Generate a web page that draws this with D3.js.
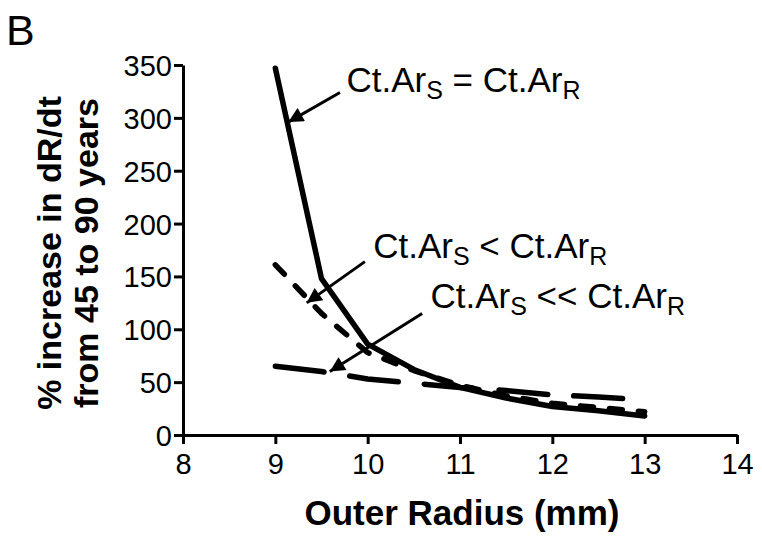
<!DOCTYPE html>
<html>
<head>
<meta charset="utf-8">
<script src="https://cdn.jsdelivr.net/npm/d3@7"></script>
<style>
  html, body { margin: 0; padding: 0; background: #fff; }
  svg { display: block; font-family: "Liberation Sans", Arial, sans-serif; }
</style>
</head>
<body>
<div id="chart"></div>
<script>
// outer radius (mm)
const radius = [9, 9.5, 10, 10.5, 11, 11.5, 12, 12.5, 13];
// % increase in dR/dt from 45 to 90 years
const equalArea = [347, 148, 86, 62, 45, 35, 27, 23, 18];
const lessArea = [161, 115, 78, 61, 47, 37, 30, 26, 22];
const muchLessArea = [65, 60, 53, 49, 45, 42, 38, 36, 33];

const xTicks = [8, 9, 10, 11, 12, 13, 14];
const yTicks = [0, 50, 100, 150, 200, 250, 300, 350];

const series = [
  { name: 'equal', values: equalArea, dash: null },
  { name: 'less', values: lessArea, dash: '13,16' },
  { name: 'muchLess', values: muchLessArea, dash: '49,26' },
];

// relation sign, label position and arrow (data coordinates)
const notes = [
  { rel: ' = ', at: [9.77, 324], tail: [9.70, 324], tip: [9.14, 296] },
  { rel: ' < ', at: [10.06, 167], tail: [9.97, 164], tip: [9.34, 125] },
  { rel: ' << ', at: [10.68, 120], tail: [10.59, 115], tip: [9.59, 60] },
];

const W = 762, H = 537;
const svg = d3.select('#chart').append('svg')
  .attr('width', W).attr('height', H);

const x = d3.scaleLinear().domain([8, 14]).range([183, 737]);
const y = d3.scaleLinear().domain([0, 350]).range([435, 65]);

svg.append('defs').append('marker')
  .attr('id', 'head')
  .attr('viewBox', '0 0 10 10')
  .attr('refX', 10).attr('refY', 5)
  .attr('markerWidth', 5.5).attr('markerHeight', 5)
  .attr('markerUnits', 'strokeWidth')
  .attr('orient', 'auto')
  .append('path').attr('d', 'M0,0L10,5L0,10Z').attr('fill', '#000');

// axes
const yAxis = svg.append('g')
  .attr('transform', `translate(${x(8)},0)`)
  .call(d3.axisLeft(y).tickValues(yTicks).tickSize(9).tickPadding(2).tickSizeOuter(0));
const xAxis = svg.append('g')
  .attr('transform', `translate(0,${y(0)})`)
  .call(d3.axisBottom(x).tickValues(xTicks).tickFormat(d3.format('d'))
    .tickSize(9).tickPadding(4).tickSizeOuter(0));

[yAxis, xAxis].forEach(ax => {
  ax.select('.domain').attr('stroke', '#000').attr('stroke-width', 3);
  ax.selectAll('.tick line').attr('stroke', '#000').attr('stroke-width', 3);
  ax.selectAll('.tick text').attr('fill', '#000')
    .style('font-size', '29px').style('font-family', '"Liberation Sans", Arial, sans-serif');
});
xAxis.selectAll('.tick text').attr('dy', '0.9em');
yAxis.selectAll('.tick text').attr('dy', '0.36em');

// lines
const line = d3.line()
  .x((d, i) => x(radius[i]))
  .y(d => y(d));

svg.selectAll('path.series')
  .data(series)
  .enter()
  .append('path')
  .attr('class', 'series')
  .attr('fill', 'none')
  .attr('stroke', '#000')
  .attr('stroke-width', 5.5)
  .attr('stroke-linejoin', 'round')
  .attr('stroke-linecap', 'round')
  .attr('stroke-dasharray', d => d.dash)
  .attr('d', d => line(d.values));

// annotations
svg.selectAll('line.arrow')
  .data(notes)
  .enter()
  .append('line')
  .attr('class', 'arrow')
  .attr('x1', d => x(d.tail[0])).attr('y1', d => y(d.tail[1]))
  .attr('x2', d => x(d.tip[0])).attr('y2', d => y(d.tip[1]))
  .attr('stroke', '#000')
  .attr('stroke-width', 3)
  .attr('marker-end', 'url(#head)');

notes.forEach(n => {
  const t = svg.append('text')
    .attr('x', x(n.at[0])).attr('y', y(n.at[1]))
    .style('font-size', '35px');
  t.append('tspan').text('Ct.Ar');
  t.append('tspan').attr('dy', 7).style('font-size', '25px').text('S');
  t.append('tspan').attr('dy', -7).text(n.rel + 'Ct.Ar');
  t.append('tspan').attr('dy', 7).style('font-size', '25px').text('R');
});

// titles
svg.append('text')
  .attr('x', 6).attr('y', 45)
  .style('font-size', '43px')
  .text('B');

svg.append('text')
  .attr('x', 462).attr('y', 525)
  .attr('text-anchor', 'middle')
  .style('font-size', '35px').style('font-weight', 'bold')
  .text('Outer Radius (mm)');

const yt = svg.append('text')
  .attr('transform', 'translate(61,253) rotate(-90)')
  .attr('text-anchor', 'middle')
  .style('font-size', '34px').style('font-weight', 'bold');
yt.append('tspan').attr('x', 0).attr('y', 0).text('% increase in dR/dt');
yt.append('tspan').attr('x', 0).attr('y', 37).text('from 45 to 90 years');
</script>
</body>
</html>
